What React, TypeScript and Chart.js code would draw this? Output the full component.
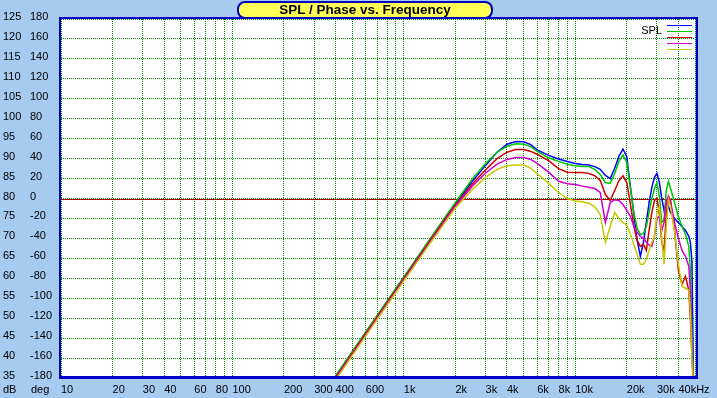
import React, { useEffect, useRef } from 'react';
import { Chart, registerables } from 'chart.js';

Chart.register(...registerables);

const FREQS = [400, 500, 700, 1000, 1400, 1800, 2000, 2500, 3000, 3500, 4000, 4500, 5000, 5500, 6000, 7000, 8000, 9000, 10000,
  11000, 12000, 13000, 14000, 15000, 16000, 17000, 18000, 19000, 20000, 21000, 22000, 23000, 24000, 25000, 26000, 27000, 28000,
  29000, 30000, 31000, 32000, 33000, 34000, 35000, 36000, 38000, 40000, 42000, 44000, 46000, 47000, 48000, 49000];

const SPL_BLUE = [35.4, 41.5, 50.6, 60.2, 69.3, 76.0, 78.7, 84.2, 88.3, 91.6, 93.6, 94.3, 94.2, 93.5, 92.2, 90.8, 89.9, 89.3, 88.8,
  88.5, 88.4, 88.0, 87.3, 85.8, 85.0, 87.6, 90.6, 92.4, 90.4, 83.0, 76.0, 69.5, 65.5, 69.0, 74.0, 79.0, 82.8,
  85.3, 86.3, 84.0, 80.0, 77.0, 79.0, 78.0, 76.5, 75.0, 74.0, 73.0, 72.0, 70.5, 69.0, 64.0, 33.0];
const SPL_GREEN = [35.5, 41.6, 50.7, 60.3, 69.4, 76.2, 79.0, 84.8, 88.8, 91.6, 93.1, 93.7, 93.6, 93.0, 91.8, 90.2, 89.3, 88.6, 88.2,
  88.0, 88.0, 87.3, 86.0, 84.0, 83.8, 86.3, 89.3, 90.9, 89.0, 82.5, 76.5, 72.5, 71.0, 71.2, 73.0, 76.5, 80.0,
  82.5, 84.0, 80.5, 74.0, 74.5, 82.0, 84.3, 82.5, 79.0, 75.5, 73.0, 71.0, 68.0, 62.0, 45.0, 33.0];
const SPL_RED = [35.1, 41.2, 50.3, 59.9, 69.0, 75.7, 78.3, 83.5, 87.2, 90.0, 91.6, 92.3, 92.3, 91.8, 91.1, 89.5, 87.5, 86.6, 86.5,
  86.5, 86.3, 85.7, 84.5, 81.0, 79.5, 82.0, 84.5, 85.7, 84.0, 78.5, 73.0, 69.5, 68.0, 68.5, 67.0, 72.0, 76.5,
  79.5, 80.0, 76.0, 69.0, 67.0, 76.0, 80.5, 79.5, 72.0, 62.0, 58.5, 60.5, 57.0, 50.0, 40.0, 33.0];
const SPL_MAGENTA = [34.8, 40.9, 50.0, 59.6, 68.7, 75.3, 78.0, 83.0, 86.4, 88.6, 89.8, 90.3, 90.3, 89.8, 88.8, 86.6, 84.3, 83.7, 83.5,
  83.1, 82.8, 82.5, 81.5, 74.0, 79.0, 79.7, 79.5, 78.5, 77.0, 75.5, 73.0, 71.5, 70.5, 70.0, 69.0, 68.3, 68.0,
  70.5, 75.0, 75.5, 72.0, 74.0, 79.5, 80.5, 79.0, 74.0, 70.0, 67.0, 65.5, 63.0, 57.0, 42.0, 33.0];
const SPL_YELLOW = [34.5, 40.6, 49.7, 59.3, 68.3, 74.9, 77.6, 82.2, 85.3, 87.3, 88.2, 88.4, 88.4, 87.6, 86.2, 83.8, 81.5, 80.0, 79.4,
  79.2, 78.8, 78.0, 76.0, 69.0, 73.0, 76.5, 75.0, 74.0, 73.3, 71.0, 68.5, 66.0, 63.5, 63.5, 64.8, 67.0, 69.0,
  70.5, 76.5, 78.0, 70.0, 63.5, 73.0, 79.8, 78.0, 71.5, 63.5, 58.0, 57.5, 57.0, 52.0, 40.0, 33.0];

const SERIES_NAMES = ['SPL 1', 'SPL 2', 'SPL 3', 'SPL 4', 'SPL 5'];
const SERIES_VALUES = [SPL_BLUE, SPL_GREEN, SPL_RED, SPL_MAGENTA, SPL_YELLOW];
const SERIES_COLORS = ['#0000FF', '#00C800', '#D00000', '#D000D0', '#C8C800'];

const X_GRID = [10, 20, 30, 40, 50, 60, 70, 80, 90, 100, 200, 300, 400, 500, 600, 700, 800, 900, 1000,
  2000, 3000, 4000, 5000, 6000, 7000, 8000, 9000, 10000, 20000, 30000, 40000, 50000];
const X_LABEL_VALUES = [10, 20, 30, 40, 60, 80, 100, 200, 300, 400, 600, 1000, 2000, 3000, 4000, 6000, 8000, 10000, 20000, 30000, 40000];
const X_LABEL_TEXT = ['10', '20', '30', '40', '60', '80', '100', '200', '300', '400', '600', '1k', '2k', '3k', '4k', '6k', '8k', '10k', '20k', '30k', '40kHz'];

const DB_MIN = 35, DB_MAX = 125, DB_STEP = 5;
const DEG_MIN = -180, DEG_MAX = 180, DEG_STEP = 20;
const REF_DB = 80;

const FONT = '"Liberation Sans", Arial, sans-serif';

export default function App() {
  const ref = useRef<HTMLCanvasElement | null>(null);

  useEffect(() => {
    if (!ref.current) return;
    const framePlugin = {
      id: 'frame',
      beforeDraw(chart: any) {
        const { ctx, chartArea: a } = chart;
        ctx.save();
        ctx.fillStyle = '#A6CAF0';
        ctx.fillRect(0, 0, chart.width, chart.height);
        ctx.fillStyle = '#FFFFFF';
        ctx.fillRect(a.left, a.top, a.right - a.left, a.bottom - a.top);
        ctx.restore();
      },
      beforeDatasetsDraw(chart: any) {
        const { ctx, chartArea: a } = chart;
        const y = Math.round(chart.scales.y.getPixelForValue(REF_DB));
        ctx.save();
        ctx.fillStyle = '#B00000';
        ctx.fillRect(a.left, y, a.right - a.left, 1);
        ctx.restore();
      },
      afterDatasetsDraw(chart: any) {
        const { ctx, chartArea: a } = chart;
        ctx.save();
        ctx.fillStyle = '#0000C8';
        const L = Math.round(a.left) - 2, T = Math.round(a.top) - 2, R = Math.round(a.right) + 1, B = Math.round(a.bottom) - 2;
        ctx.fillRect(L, T, 2, B - T + 3);
        ctx.fillRect(L, T, R - L + 2, 2);
        ctx.fillRect(R, T, 2, B - T + 3);
        ctx.fillRect(L, B, R - L + 2, 3);
        // legend
        ctx.fillStyle = '#000';
        ctx.font = '11px ' + FONT;
        ctx.textAlign = 'right';
        ctx.textBaseline = 'middle';
        ctx.fillText('SPL', 662, 31);
        chart.data.datasets.forEach((ds: any, i: number) => {
          ctx.fillStyle = ds.borderColor;
          ctx.fillRect(667, 25 + 6 * i, 25, 1);
        });
        // axis unit labels
        ctx.fillStyle = '#000';
        ctx.textAlign = 'left';
        ctx.fillText('dB', 3, 390);
        ctx.fillText('deg', 31, 390);
        ctx.restore();
      },
    };

    const chart = new Chart(ref.current, {
      type: 'line',
      data: {
        datasets: SERIES_VALUES.map((vals, i) => ({
          label: SERIES_NAMES[i],
          data: FREQS.map((f, j) => ({ x: f, y: vals[j] })),
          borderColor: SERIES_COLORS[i],
          backgroundColor: SERIES_COLORS[i],
          borderWidth: 1.5,
          pointRadius: 0,
          tension: 0,
          fill: false,
          order: SERIES_VALUES.length - i,
        })),
      },
      options: {
        responsive: false,
        maintainAspectRatio: false,
        animation: false,
        devicePixelRatio: 1,
        events: [],
        layout: { padding: { left: 3, top: 19, right: 22, bottom: 0 } },
        plugins: { legend: { display: false }, tooltip: { enabled: false }, title: { display: false } },
        scales: {
          x: {
            type: 'logarithmic',
            min: 10,
            max: 50000,
            afterBuildTicks: (s: any) => { s.ticks = X_GRID.map((v) => ({ value: v })); },
            afterFit: (s: any) => { s.height = 20; },
            grid: { color: '#008800', lineWidth: 1, drawTicks: false },
            border: { display: false, dash: [1, 1] },
            ticks: {
              autoSkip: false, maxRotation: 0, minRotation: 0, align: 'start', padding: 5, color: '#000',
              font: { family: FONT, size: 11 },
              callback: (v: any) => { const i = X_LABEL_VALUES.indexOf(Number(v)); return i >= 0 ? X_LABEL_TEXT[i] : ''; },
            },
          },
          y: {
            type: 'linear', position: 'left', min: DB_MIN, max: DB_MAX, weight: 2,
            afterFit: (s: any) => { s.width = 27; },
            grid: { color: '#008800', lineWidth: 1, drawTicks: false },
            border: { display: false, dash: [1, 1] },
            ticks: { stepSize: DB_STEP, crossAlign: 'far', labelOffset: -2, padding: 0, color: '#000', font: { family: FONT, size: 11 } },
          },
          y2: {
            type: 'linear', position: 'left', min: DEG_MIN, max: DEG_MAX, weight: 1,
            afterFit: (s: any) => { s.width = 31; },
            grid: { display: false, drawTicks: false },
            border: { display: false },
            ticks: { stepSize: DEG_STEP, crossAlign: 'far', labelOffset: -2, padding: 0, color: '#000', font: { family: FONT, size: 11 } },
          },
        },
      } as any,
      plugins: [framePlugin],
    });
    return () => chart.destroy();
  }, []);

  return (
    <div style={{ position: 'absolute', left: 0, top: 0, width: 717, height: 398, background: '#A6CAF0' }}>
      <canvas ref={ref} width={717} height={398} style={{ display: 'block' }} />
      <div
        style={{
          position: 'absolute', left: 237, top: 1, width: 256, height: 18, boxSizing: 'border-box',
          border: '2px solid #0000C0', borderRadius: 8, background: '#FFFF55', color: '#000',
          font: 'bold 13.5px ' + FONT, lineHeight: '14px', textAlign: 'center',
        }}
      >
        SPL / Phase vs. Frequency
      </div>
    </div>
  );
}
